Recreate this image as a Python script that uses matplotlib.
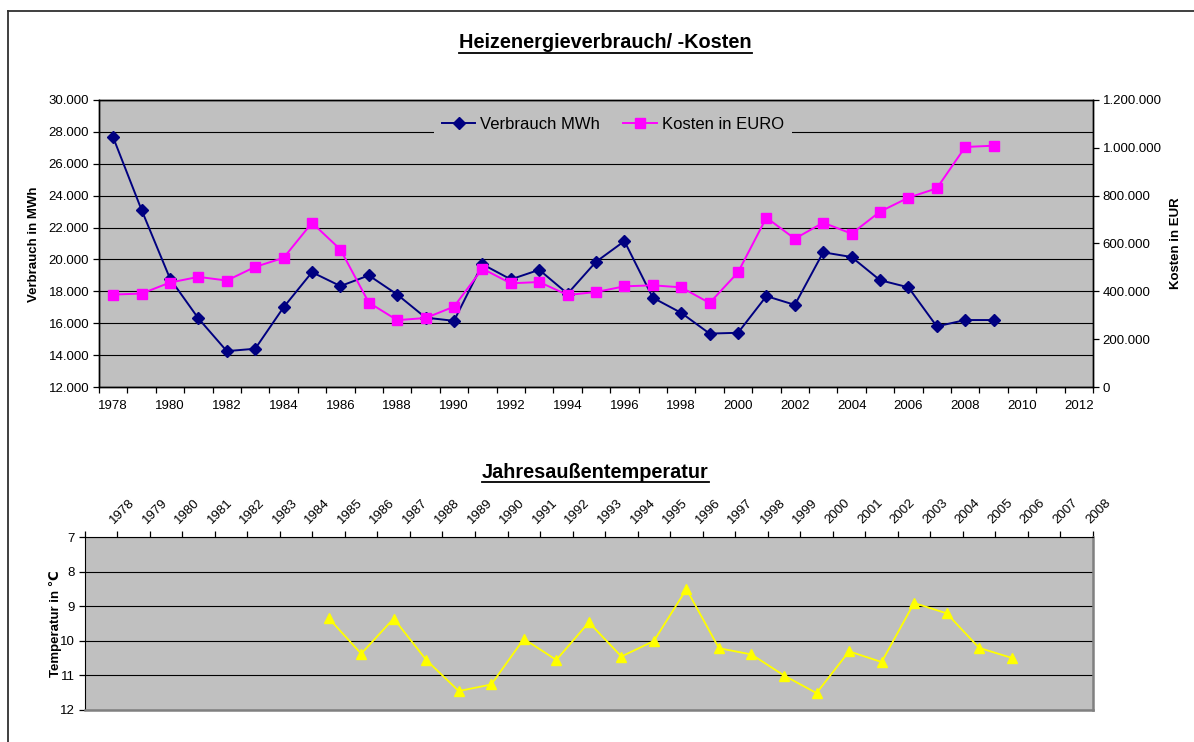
import matplotlib
matplotlib.use('Agg')
import matplotlib.pyplot as plt
from matplotlib.lines import Line2D
from matplotlib.ticker import FixedLocator, FuncFormatter, NullFormatter
from matplotlib.transforms import blended_transform_factory, ScaledTranslation
import numpy as np

plt.rcParams['font.family'] = ['Liberation Sans', 'DejaVu Sans']

# --- data -------------------------------------------------------------
top_years = list(range(1978, 2013))          # category axis of the upper chart
data_years = list(range(1978, 2010))
verbrauch = [27650, 23100, 18800, 16300, 14250, 14400, 17000, 19200, 18330, 19000,
             17800, 16350, 16150, 19700, 18750, 19350, 17850, 19850, 21150, 17600,
             16650, 15350, 15400, 17700, 17150, 20450, 20150, 18700, 18250, 15800,
             16200, 16200]
kosten = [386500, 390700, 436700, 460400, 445100, 502300, 540000, 686500, 574900, 353000,
          279500, 288500, 335900, 494800, 433400, 439000, 384700, 397200, 420900, 425100,
          416700, 351200, 479400, 708000, 620000, 687100, 641100, 733100, 791600, 830600,
          1003500, 1009000]

temp_cats = list(range(1978, 2009))          # category axis of the lower chart
temp_years = list(range(1985, 2007))
temperatur = [9.35, 10.38, 9.36, 10.56, 11.46, 11.27, 9.95, 10.56, 9.47, 10.46, 10.01,
              8.51, 10.22, 10.40, 11.01, 11.52, 10.31, 10.62, 8.91, 9.21, 10.21, 10.50]

W, H = 1194, 742
GRAY = '#C0C0C0'
fs = 9.5

def dotfmt(v, pos):
    return f'{v:,.0f}'.replace(',', '.')

fig = plt.figure(figsize=(W / 100, H / 100), dpi=100)

def fx(px):
    return px / W

def fy(py):
    return 1 - py / H

# outer chart frame (top + left edge visible)
fig.add_artist(Line2D([fx(8), 1], [fy(10.5), fy(10.5)], color='#303030', lw=1.3))
fig.add_artist(Line2D([fx(8), fx(8)], [fy(10.5), 0], color='#303030', lw=1.3))

# ---------------- upper chart ----------------
ax = fig.add_axes([fx(99), fy(387), fx(1093) - fx(99), fy(100) - fy(387)])
ax.set_facecolor(GRAY)
xv = np.array([top_years.index(y) for y in data_years])
l1, = ax.plot(xv, verbrauch, color='#000080', lw=1.4, marker='D', ms=6.5,
              label='Verbrauch MWh', zorder=4)
ax.set_xlim(-0.5, len(top_years) - 0.5)
ax.set_ylim(12000, 30000)
ax.set_yticks(np.arange(12000, 30001, 2000))
ax.yaxis.set_major_formatter(FuncFormatter(dotfmt))
ax.grid(axis='y', color='black', lw=0.8)
ax.set_axisbelow(True)
ax.set_xticks(np.arange(0, len(top_years), 2))
ax.set_xticklabels([str(y) for y in top_years[::2]])
ax.xaxis.set_minor_locator(FixedLocator(np.arange(-0.5, len(top_years), 1)))
ax.tick_params(axis='x', which='major', length=0, pad=9, labelsize=fs)
ax.tick_params(axis='x', which='minor', length=4, width=0.9, direction='out')
ax.tick_params(axis='y', length=4, width=0.9, pad=3, labelsize=fs)
for s in ax.spines.values():
    s.set_color('black')
    s.set_linewidth(1.0)

ax2 = ax.twinx()
l2, = ax2.plot(xv, kosten, color='#FF00FF', lw=1.4, marker='s', ms=7,
               label='Kosten in EURO', zorder=4)
ax2.set_ylim(0, 1200000)
ax2.set_yticks(np.arange(0, 1200001, 200000))
ax2.yaxis.set_major_formatter(FuncFormatter(dotfmt))
ax2.tick_params(axis='y', length=4, width=0.9, pad=3, labelsize=fs)
for s in ax2.spines.values():
    s.set_color('black')
    s.set_linewidth(1.0)

leg = ax2.legend(handles=[l1, l2], loc='upper center', bbox_to_anchor=(0.517, 1.0),
                 ncol=2, fontsize=12, frameon=True, facecolor=GRAY, edgecolor='none',
                 framealpha=1, fancybox=False, handlelength=2.0, handletextpad=0.3,
                 columnspacing=1.4, borderpad=0.5)
leg.set_zorder(10)

fig.text(fx(34), fy(244), 'Verbrauch in MWh', rotation=90, ha='center', va='center',
         fontsize=fs, fontweight='bold')
fig.text(fx(1176), fy(243), 'Kosten in EUR', rotation=90, ha='center', va='center',
         fontsize=fs, fontweight='bold')

# ---------------- lower chart ----------------
bx = fig.add_axes([fx(84.7), fy(709.7), fx(1093) - fx(84.7), fy(537) - fy(709.7)])
bx.set_facecolor(GRAY)
tv = np.array([temp_cats.index(y) for y in temp_years])
bx.plot(tv, temperatur, color='#FFFF00', lw=1.3, marker='^', ms=7, zorder=4)
bx.set_xlim(-0.5, len(temp_cats) - 0.5)
bx.set_ylim(12, 7)
bx.set_yticks(range(7, 13))
bx.grid(axis='y', color='black', lw=0.8)
bx.set_axisbelow(True)
bx.xaxis.tick_top()
bx.set_xticks(np.arange(len(temp_cats)))
bx.xaxis.set_major_formatter(NullFormatter())
bx.xaxis.set_minor_locator(FixedLocator(np.arange(-0.5, len(temp_cats), 1)))
bx.tick_params(axis='x', which='major', length=0, top=True, bottom=False)
bx.tick_params(axis='x', which='minor', length=4, width=0.9, direction='out',
               top=True, bottom=False)
bx.tick_params(axis='y', length=4, width=0.9, pad=3, labelsize=fs)
bx.spines['left'].set_color('black')
bx.spines['top'].set_color('black')
bx.spines['right'].set_color('#808080')
bx.spines['bottom'].set_color('#808080')
bx.spines['right'].set_linewidth(1.8)
bx.spines['bottom'].set_linewidth(1.8)

# rotated year labels, shifted the way the spreadsheet draws them
lab_tr = blended_transform_factory(bx.transData, bx.transAxes) + \
    ScaledTranslation(0.11, 0.153, fig.dpi_scale_trans)
for i, y in enumerate(temp_cats):
    bx.text(i, 1, str(y), transform=lab_tr, rotation=45, ha='left', va='center',
            rotation_mode='anchor', fontsize=fs)

fig.text(fx(55), fy(623.5), 'Temperatur in \u2103', rotation=90, ha='center', va='center',
         fontsize=fs, fontweight='bold')

# ---------------- titles (underlined) ----------------
t1 = fig.text(fx(605.5), fy(42), 'Heizenergieverbrauch/ -Kosten', ha='center', va='center',
              fontsize=14.3, fontweight='bold')
t2 = fig.text(fx(595.5), fy(473), 'Jahresaußentemperatur', ha='center', va='center',
              fontsize=14.3, fontweight='bold')
fig.canvas.draw()
r = fig.canvas.get_renderer()
for t, uy in ((t1, 52.7), (t2, 482.3)):
    bb = t.get_window_extent(renderer=r)
    fig.add_artist(Line2D([bb.x0 / W, bb.x1 / W], [fy(uy), fy(uy)], color='black', lw=1.3))

fig.savefig('out.png', dpi=100)
